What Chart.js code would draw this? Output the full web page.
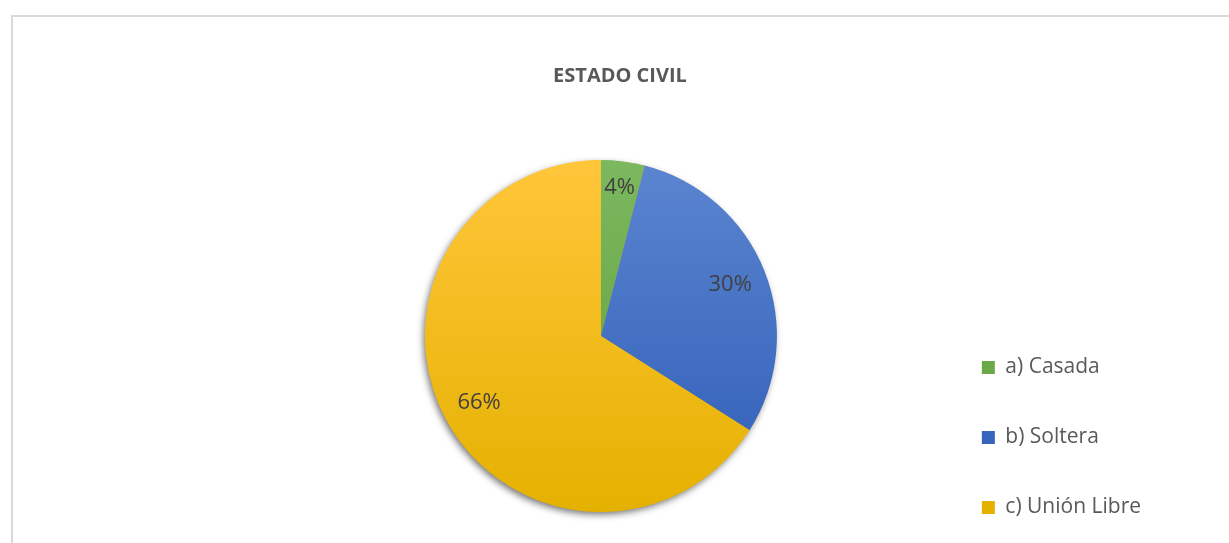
<!DOCTYPE html>
<html>
<head>
<meta charset="utf-8">
<script src="https://cdn.jsdelivr.net/npm/chart.js@4.4.1/dist/chart.umd.min.js"></script>
<style>
  html, body { margin: 0; padding: 0; background: #fff; overflow: hidden; }
  #frame {
    position: absolute; left: 11px; top: 15px; width: 1218px; height: 528px;
    border-top: 2px solid #d9d9d9; border-left: 2px solid #d9d9d9;
    box-sizing: border-box;
  }
  #titulo {
    position: absolute; left: 0; top: 44px; width: 1214px; line-height: 24px;
    text-align: center; color: #595959; font: bold 20px "Open Sans", sans-serif;
  }
  /* el lienzo baja mas alla del borde para ubicar la leyenda */
  #wrap { position: absolute; left: 0; top: 0; width: 1216px; height: 550px; }
</style>
</head>
<body>
<div id="frame">
  <div id="wrap"><canvas id="pie"></canvas></div>
  <div id="titulo">ESTADO CIVIL</div>
</div>
<script>
const categorias = ['a) Casada', 'b) Soltera', 'c) Unión Libre'];
const porcentajes = [4, 30, 66];
const etiquetas = ['4%', '30%', '66%'];
// colores arriba / abajo del degradado
const coloresClaros = ['#7cb85e', '#5b85d0', '#ffc63a'];
const coloresOscuros = ['#5f9d3b', '#2e5db7', '#e5b100'];

function degradado(ctx) {
  const chart = ctx.chart;
  const area = chart.chartArea;
  if (!area) return coloresClaros[ctx.dataIndex];
  const g = chart.ctx.createLinearGradient(0, area.top, 0, area.bottom);
  g.addColorStop(0, coloresClaros[ctx.dataIndex]);
  g.addColorStop(1, coloresOscuros[ctx.dataIndex]);
  return g;
}

// sombra debajo del pastel
const sombra = {
  id: 'sombra',
  beforeDatasetsDraw(chart) {
    const arc = chart.getDatasetMeta(0).data[0];
    if (!arc) return;
    const c = chart.ctx;
    c.save();
    c.shadowColor = 'rgba(0,0,0,0.55)';
    c.shadowBlur = 7;
    c.shadowOffsetX = -2;
    c.shadowOffsetY = 3;
    c.fillStyle = '#e6b000';
    c.beginPath();
    c.arc(arc.x, arc.y, arc.outerRadius - 0.5, 0, Math.PI * 2);
    c.fill();
    c.restore();
  }
};

// etiquetas de porcentaje dentro de cada porcion
const etiquetasPlugin = {
  id: 'etiquetasPlugin',
  afterDatasetsDraw(chart) {
    const c = chart.ctx;
    c.save();
    c.font = '22px "Open Sans", sans-serif';
    c.fillStyle = '#404040';
    c.textAlign = 'center';
    c.textBaseline = 'middle';
    chart.getDatasetMeta(0).data.forEach((arc, i) => {
      const mid = (arc.startAngle + arc.endAngle) / 2;
      const r = arc.outerRadius * (porcentajes[i] < 10 ? 0.85 : 0.79);
      c.fillText(etiquetas[i], arc.x + Math.cos(mid) * r, arc.y + Math.sin(mid) * r);
    });
    c.restore();
  }
};

new Chart(document.getElementById('pie'), {
  type: 'pie',
  data: {
    labels: categorias,
    datasets: [{
      data: porcentajes,
      backgroundColor: degradado,
      borderWidth: 0
    }]
  },
  options: {
    responsive: true,
    maintainAspectRatio: false,
    animation: false,
    layout: { padding: { left: 256, right: 78, top: 143, bottom: 0 } },
    plugins: {
      title: { display: false },
      // espacio vacio bajo el pastel
      subtitle: {
        display: true,
        position: 'bottom',
        text: ' ',
        font: { size: 10 },
        padding: { top: 43, bottom: 0 }
      },
      legend: {
        position: 'right',
        align: 'end',
        labels: {
          boxWidth: 13,
          boxHeight: 13,
          padding: 49,
          color: '#595959',
          font: { family: '"Open Sans", sans-serif', size: 21 }
        }
      },
      tooltip: { enabled: false }
    }
  },
  plugins: [sombra, etiquetasPlugin]
});
</script>
</body>
</html>
